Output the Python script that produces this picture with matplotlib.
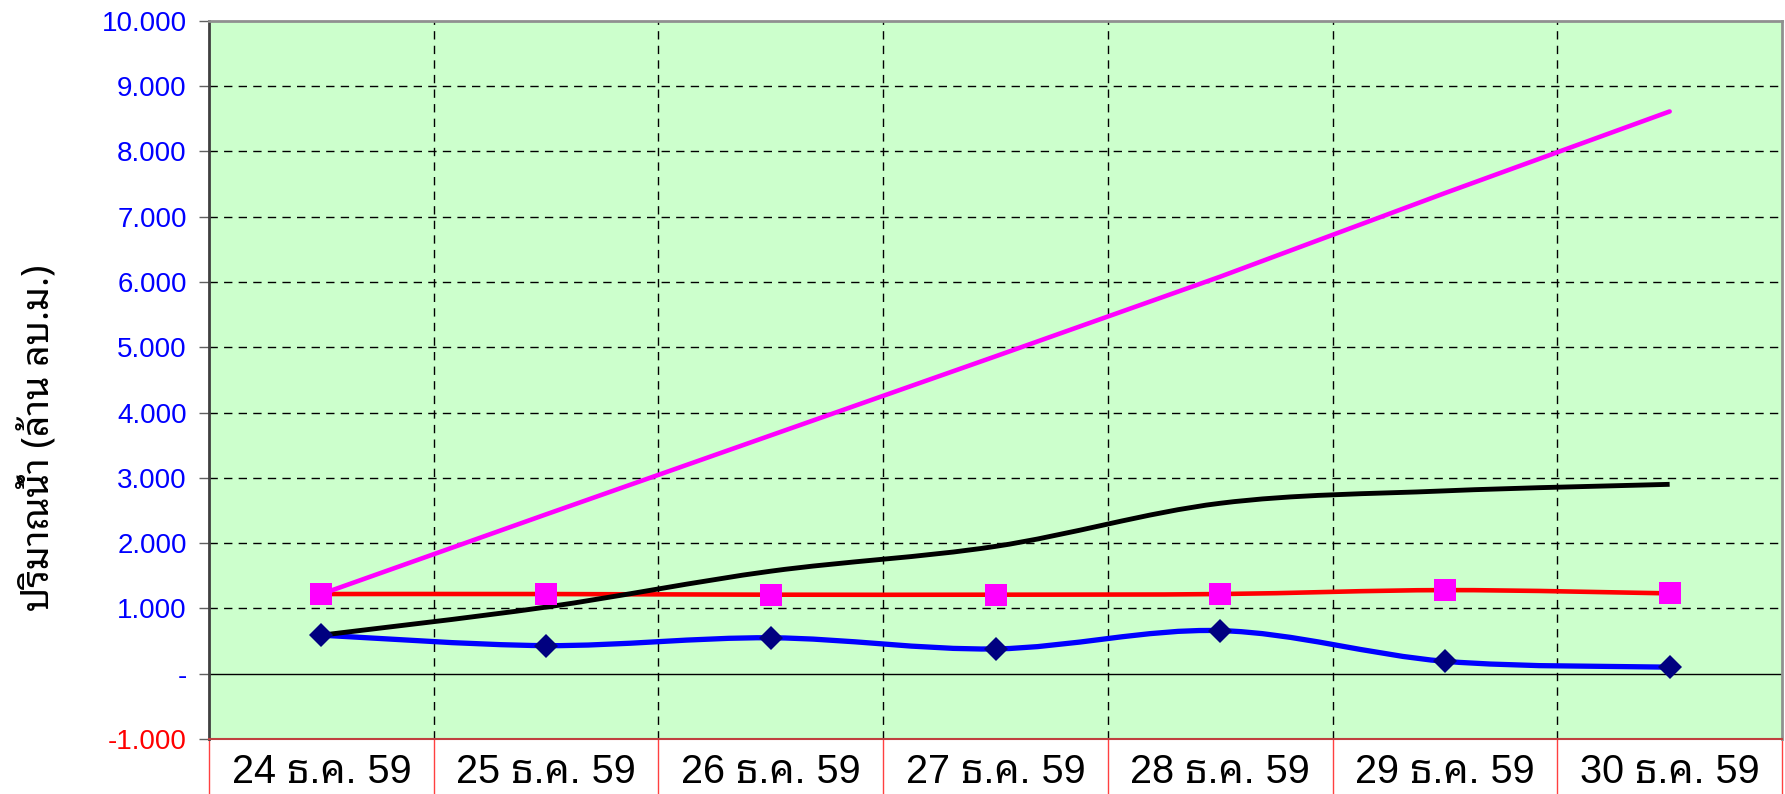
import matplotlib
matplotlib.use("Agg")
import matplotlib.pyplot as plt
from matplotlib import font_manager
from matplotlib.path import Path
from matplotlib.patches import PathPatch

# data (million m3)
days = ["24 ธ.ค. 59", "25 ธ.ค. 59", "26 ธ.ค. 59", "27 ธ.ค. 59",
        "28 ธ.ค. 59", "29 ธ.ค. 59", "30 ธ.ค. 59"]
blue_vals = [0.59, 0.43, 0.55, 0.38, 0.66, 0.19, 0.10]
red_vals = [1.22, 1.22, 1.21, 1.21, 1.22, 1.28, 1.23]
black_vals = [0.59, 1.02, 1.57, 1.95, 2.61, 2.80, 2.90]
magenta_vals = [1.22, 2.44, 3.65, 4.86, 6.08, 7.36, 8.61]
yticks = [-1, 0, 1, 2, 3, 4, 5, 6, 7, 8, 9, 10]
ylabel = "ปริมาณน้ำ (ล้าน ลบ.ม.)"


def pick(cands):
    for c in cands:
        try:
            font_manager.findfont(c, fallback_to_default=False)
            return c
        except Exception:
            pass
    return "DejaVu Sans"


thai = pick(["Noto Sans Thai Looped", "Noto Sans Thai", "Sarabun", "Anuphan"])
latin = ["Liberation Sans", thai, "DejaVu Sans"]
plt.rcParams["lines.scale_dashes"] = False


def smooth_path(xs, ys):
    # excel-like smoothed line as cubic bezier segments
    n = len(xs)
    verts = [(xs[0], ys[0])]
    codes = [Path.MOVETO]
    for i in range(n - 1):
        x0, y0 = (xs[i - 1], ys[i - 1]) if i > 0 else (xs[i], ys[i])
        x3, y3 = (xs[i + 2], ys[i + 2]) if i + 2 < n else (xs[i + 1], ys[i + 1])
        c1 = (xs[i] + (xs[i + 1] - x0) / 6, ys[i] + (ys[i + 1] - y0) / 6)
        c2 = (xs[i + 1] - (x3 - xs[i]) / 6, ys[i + 1] - (y3 - ys[i]) / 6)
        verts += [c1, c2, (xs[i + 1], ys[i + 1])]
        codes += [Path.CURVE4] * 3
    return Path(verts, codes)


fig = plt.figure(figsize=(17.85, 7.94), dpi=100)
ax = fig.add_axes([209 / 1785, 1 - 739 / 794, (1782 - 209) / 1785, (739 - 20.7) / 794])
ax.set_facecolor("#CCFFCC")

x = list(range(len(days)))
ax.set_xlim(-0.5, len(days) - 0.5)
ax.set_ylim(-1, 10)

# grid
for yv in yticks[1:-1]:
    if yv != 0:
        ax.axhline(yv, color="black", lw=1, ls=(0, (6, 4.5)), zorder=1)
ax.axhline(0, color="black", lw=1, zorder=1)
for b in range(1, len(days)):
    ax.axvline(b - 0.5, color="black", lw=1, ls=(0, (6, 4.5)), zorder=1)

# series
ax.add_patch(PathPatch(smooth_path(x, blue_vals), fill=False, ec="#0000FF", lw=3.8, zorder=3))
ax.add_patch(PathPatch(smooth_path(x, red_vals), fill=False, ec="#FF0000", lw=3.3, zorder=3))
ax.add_patch(PathPatch(smooth_path(x, black_vals), fill=False, ec="black", lw=3.5, zorder=4))
ax.plot(x, magenta_vals, color="#FF00FF", lw=3.3, solid_capstyle="round", zorder=5)
ax.plot(x, blue_vals, ls="none", marker="D", ms=12.5, color="#000080", mew=0, zorder=6)
ax.plot(x, red_vals, ls="none", marker="s", ms=16, color="#FF00FF", mew=0, zorder=6)

# spines
ax.spines["left"].set_color("#404040")
ax.spines["left"].set_linewidth(2)
ax.spines["top"].set_color("#909090")
ax.spines["top"].set_linewidth(2)
ax.spines["right"].set_color("#909090")
ax.spines["right"].set_linewidth(2)
ax.spines["bottom"].set_color("#C04040")
ax.spines["bottom"].set_linewidth(1.5)

# y axis
ax.set_yticks(yticks)
labs = ["-" if v == 0 else f"{v:.3f}" for v in yticks]
ax.set_yticklabels(labs, fontsize=20, family=latin)
for t, v in zip(ax.get_yticklabels(), yticks):
    t.set_color("#FF0000" if v < 0 else "#0000FF")
ax.tick_params(axis="y", length=7, width=1, color="#606060", pad=9)

# x axis as a table row
ax.set_xticks(x)
ax.set_xticklabels(days, fontsize=28.5, family=latin)
ax.tick_params(axis="x", length=0, pad=10)
for b in range(len(days) + 1):
    ax.plot([b - 0.5, b - 0.5], [0, -0.2], color="#FF4040", lw=1,
            transform=ax.get_xaxis_transform(), clip_on=False)

fig.text(38 / 1785, 1 - 438 / 794, ylabel, rotation=90, ha="center", va="center",
         fontsize=27, fontweight="bold", family=[thai, "DejaVu Sans"])

fig.savefig("out.png", dpi=100)
